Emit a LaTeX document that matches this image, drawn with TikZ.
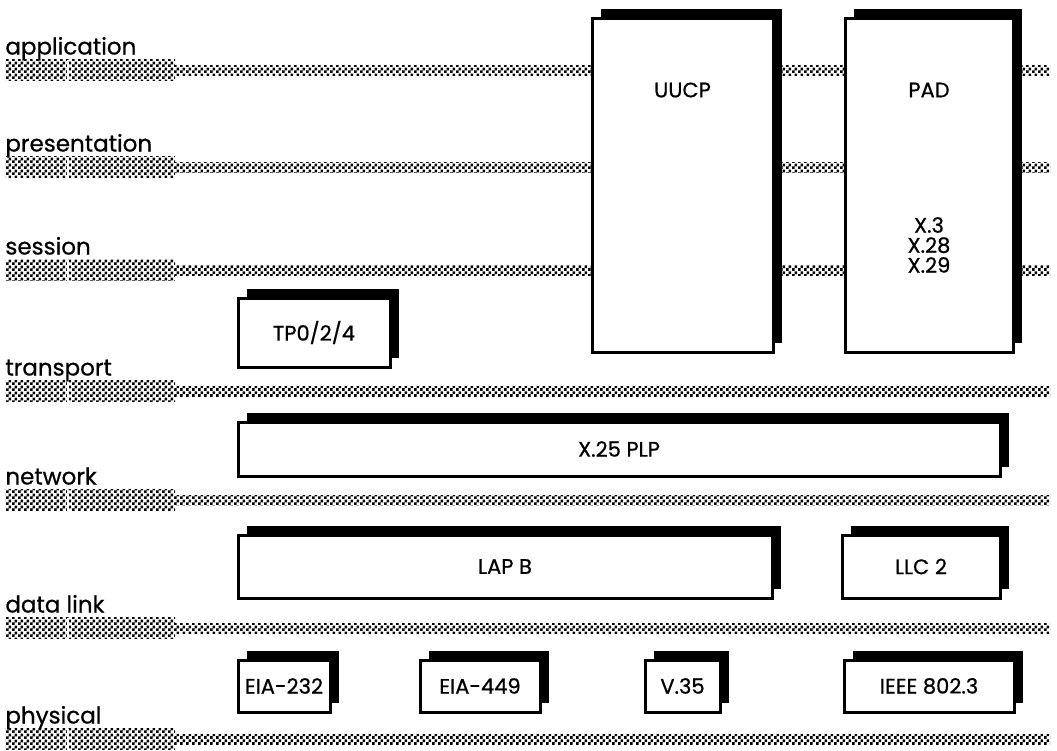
\documentclass[tikz,border=0pt]{standalone}
\usepackage{fontspec}
\setmainfont{Poppins}[FakeBold=0.7]
\usetikzlibrary{positioning,shadows,patterns}
% fine checker used for the layer bars
\pgfdeclarepatternformonly{finecheck}{\pgfqpoint{0pt}{0pt}}{\pgfqpoint{3pt}{3pt}}{\pgfqpoint{3pt}{3pt}}{%
  \pgfpathrectangle{\pgfqpoint{0pt}{0pt}}{\pgfqpoint{1.5pt}{1.5pt}}%
  \pgfpathrectangle{\pgfqpoint{1.5pt}{1.5pt}}{\pgfqpoint{1.5pt}{1.5pt}}%
  \pgfusepath{fill}}
\tikzset{
  layerlabel/.style={anchor=base west,inner sep=0pt,font=\fontsize{11.5}{13}\selectfont},
  layerbar/.style={pattern=finecheck,minimum width=85pt,minimum height=10.5pt,inner sep=0pt,outer sep=0pt,
    path picture={\draw[white,line width=0.6pt] ([xshift=31.5pt]path picture bounding box.south west)--([xshift=31.5pt]path picture bounding box.north west);}},
  layerline/.style={pattern=finecheck,minimum width=437.5pt,minimum height=5pt,inner sep=0pt,outer sep=0pt},
  protobox/.style={draw=black,line width=1.5pt,fill=white,inner sep=2pt,font=\fontsize{10.5}{10.5}\selectfont,
    drop shadow={shadow xshift=4.5pt,shadow yshift=4.5pt,fill=black,opacity=1}},
  boxtext/.style={inner sep=0pt,font=\fontsize{10.5}{10}\selectfont,align=center}
}
\begin{document}
\begin{tikzpicture}[x=0.5pt,y=-0.5pt]
\useasboundingbox (0,0) rectangle (1057,751);

% layers
\node[layerbar] (appbar) at (90,70) {};
\node[layerline,right=0pt of appbar] (appline) {};
\node[layerlabel] (applbl) at ([yshift=2.5pt]appbar.north west) {application};

\node[layerbar] (presbar) at (90,167) {};
\node[layerline,right=0pt of presbar] (presline) {};
\node[layerlabel] (preslbl) at ([yshift=2.5pt]presbar.north west) {presentation};

\node[layerbar] (sessbar) at (90,270) {};
\node[layerline,right=0pt of sessbar] (sessline) {};
\node[layerlabel] (sesslbl) at ([yshift=2.5pt]sessbar.north west) {session};

\node[layerbar] (transbar) at (90,391) {};
\node[layerline,right=0pt of transbar] (transline) {};
\node[layerlabel] (translbl) at ([yshift=2.5pt]transbar.north west) {transport};

\node[layerbar] (netbar) at (90,500) {};
\node[layerline,right=0pt of netbar] (netline) {};
\node[layerlabel] (netlbl) at ([yshift=2.5pt]netbar.north west) {network};

\node[layerbar] (dlbar) at (90,628) {};
\node[layerline,right=0pt of dlbar] (dlline) {};
\node[layerlabel] (dllbl) at ([yshift=2.5pt]dlbar.north west) {data link};

\node[layerbar] (physbar) at (90,739) {};
\node[layerline,right=0pt of physbar] (physline) {};
\node[layerlabel] (physlbl) at ([yshift=2.5pt]physbar.north west) {physical};

% protocol boxes
\node[protobox,minimum width=90.5pt,minimum height=167pt] (uucp) at (682.5,185) {};
\node[boxtext] (uucptxt) at (682.5,90) {UUCP};
\node[protobox,minimum width=84pt,minimum height=167pt] (pad) at (929,185) {};
\node[boxtext] (padtxt) at (929,90) {PAD};
\node[boxtext] (padx) at (929,245) {X.3\\X.28\\X.29};

\node[protobox,minimum width=76pt,minimum height=34.5pt] (tp) at (314,332.5) {TP0/2/4};
\node[protobox,minimum width=381pt,minimum height=27pt] (plp) at (619,449) {X.25 PLP};
\node[protobox,minimum width=267pt,minimum height=31.5pt] (lapb) at (505,566.5) {LAP B};
\node[protobox,minimum width=79pt,minimum height=31.5pt] (llc) at (921,566.5) {LLC 2};

\node[protobox,minimum width=46pt,minimum height=26pt] (eiaa) at (284,686) {EIA-232};
\node[protobox,minimum width=60pt,minimum height=26pt] (eiab) at (480,686) {EIA-449};
\node[protobox,minimum width=37.5pt,minimum height=26pt] (vtf) at (682.5,686) {V.35};
\node[protobox,minimum width=85pt,minimum height=26pt] (ieee) at (929,686) {IEEE 802.3};
\end{tikzpicture}
\end{document}
